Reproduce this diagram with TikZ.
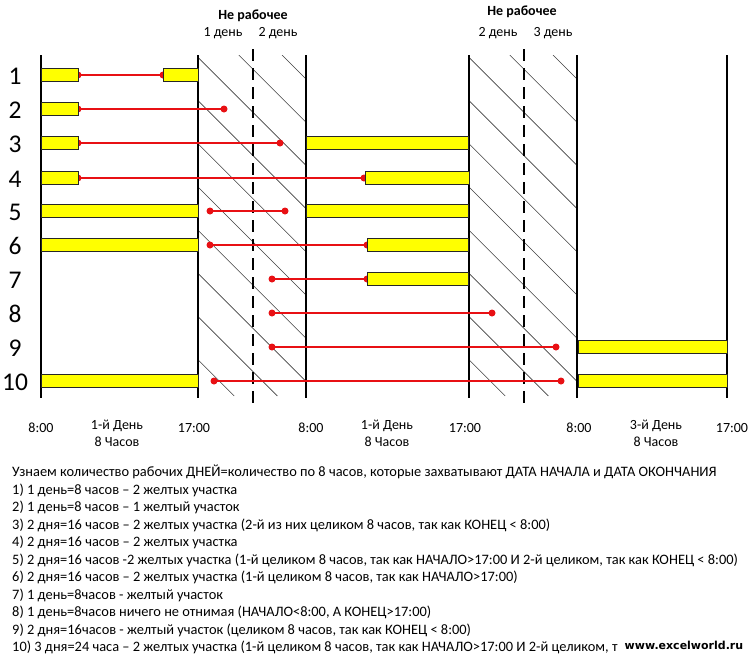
\documentclass[tikz,border=0pt]{standalone}
\usepackage{fontspec}
\setmainfont{Carlito}
\newfontfamily\wmfont{DejaVu Sans}
\definecolor{redc}{RGB}{232,16,20}
\definecolor{ylw}{RGB}{255,255,0}
\begin{document}
\begin{tikzpicture}[x=1pt,y=-1pt,
  bar/.style={draw=black!85, fill=ylw, line width=0.8pt, inner sep=0pt, minimum height=13.5pt, anchor=west},
  dot/.style={circle, fill=redc, inner sep=0pt, minimum size=7pt},
  conn/.style={draw=redc, line width=1.4pt},
  axis/.style={line width=2.6pt, black},
  dashaxis/.style={line width=1.8pt, black, dash pattern=on 12pt off 7pt},
  hatch/.style={line width=0.6pt, black!75},
  lab/.style={font=\fontsize{14}{17}\selectfont, inner sep=0pt},
  rowlab/.style={font=\fontsize{25.5}{28}\selectfont, inner sep=0pt},
  txt/.style={font=\fontsize{14.4}{17.5}\selectfont, inner sep=0pt, anchor=base west}]
\useasboundingbox (0,0) rectangle (749,654);
\fill[white] (0,0) rectangle (749,654);

% hatching
\begin{scope}
  \clip (198,55) rectangle (306,396);
  \foreach \k in {0,...,9}{
    \pgfmathsetmacro\c{227-43.2*\k}
    \draw[hatch] (\c+55,55) -- (\c+396,396);
  }
\end{scope}
\begin{scope}
  \clip (469,55) rectangle (577,396);
  \foreach \k in {0,...,9}{
    \pgfmathsetmacro\c{498-43.2*\k}
    \draw[hatch] (\c+55,55) -- (\c+396,396);
  }
\end{scope}

% axes
\draw[axis] (41,55) -- (41,398);
\draw[axis] (198,55) -- (198,398);
\draw[axis] (306,55) -- (306,398);
\draw[axis] (469,55) -- (469,398);
\draw[axis] (577,55) -- (577,398);
\draw[axis] (727,55) -- (727,398);
\draw[dashaxis] (253,49) -- (253,409);
\draw[dashaxis] (524,49) -- (524,409);

% dots (free ends and bar ends)
\node[dot] (d1a) at (78,75) {};   \node[dot] (d1b) at (163,75) {};
\node[dot] (d2a) at (78,109) {};  \node[dot] (d2b) at (224,109) {};
\node[dot] (d3a) at (78,143) {};  \node[dot] (d3b) at (280,143) {};
\node[dot] (d4a) at (78,178) {};  \node[dot] (d4b) at (364,178) {};
\node[dot] (d5a) at (210,211) {}; \node[dot] (d5b) at (285,211) {};
\node[dot] (d6a) at (210,245) {}; \node[dot] (d6b) at (367,245) {};
\node[dot] (d7a) at (272,279) {}; \node[dot] (d7b) at (367,279) {};
\node[dot] (d8a) at (272,313) {}; \node[dot] (d8b) at (492,313) {};
\node[dot] (d9a) at (272,347) {}; \node[dot] (d9b) at (556,347) {};
\node[dot] (d10a) at (214,381) {}; \node[dot] (d10b) at (561,381) {};

\foreach \r in {1,...,10}{ \draw[conn] (d\r a.center) -- (d\r b.center); }

% bars
\node[bar, minimum width=37pt] (b1a) at (41,75) {};
\node[bar, minimum width=35pt] (b1b) at (163,75) {};
\node[bar, minimum width=37pt] (b2a) at (41,109) {};
\node[bar, minimum width=37pt] (b3a) at (41,143) {};
\node[bar, minimum width=162pt] (b3b) at (306,143) {};
\node[bar, minimum width=37pt] (b4a) at (41,178) {};
\node[bar, minimum width=104pt] (b4b) at (365,178) {};
\node[bar, minimum width=157pt] (b5a) at (41,211) {};
\node[bar, minimum width=162pt] (b5b) at (306,211) {};
\node[bar, minimum width=157pt] (b6a) at (41,245) {};
\node[bar, minimum width=101pt] (b6b) at (367,245) {};
\node[bar, minimum width=101pt] (b7b) at (367,279) {};
\node[bar, minimum width=149pt] (b9b) at (578,347) {};
\node[bar, minimum width=157pt] (b10a) at (41,381) {};
\node[bar, minimum width=149pt] (b10b) at (578,381) {};

% row labels
\node[rowlab] (n1) at (15,76) {1};
\node[rowlab] (n2) at (15,110) {2};
\node[rowlab] (n3) at (15,144) {3};
\node[rowlab] (n4) at (15,179) {4};
\node[rowlab] (n5) at (15,212) {5};
\node[rowlab] (n6) at (15,246) {6};
\node[rowlab] (n7) at (15,280) {7};
\node[rowlab] (n8) at (15,314) {8};
\node[rowlab] (n9) at (15,348) {9};
\node[rowlab] (n10) at (15,382) {10};

% top labels
\node[lab, font=\fontsize{14}{17}\selectfont\bfseries] (nr1) at (253,16) {Не рабочее};
\node[lab] (t1) at (223,33) {1 день};
\node[lab] (t2) at (278,33) {2 день};
\node[lab, font=\fontsize{14}{17}\selectfont\bfseries] (nr2) at (522,12) {Не рабочее};
\node[lab] (t3) at (498,33) {2 день};
\node[lab] (t4) at (553,33) {3 день};

% bottom labels
\node[lab] (h1) at (41,428) {8:00};
\node[lab, align=center] (dd1) at (117,433) {1-й День\\8 Часов};
\node[lab] (h2) at (194,428) {17:00};
\node[lab] (h3) at (311,428) {8:00};
\node[lab, align=center] (dd2) at (387,433) {1-й День\\8 Часов};
\node[lab] (h4) at (465,428) {17:00};
\node[lab] (h5) at (579,428) {8:00};
\node[lab, align=center] (dd3) at (656,433) {3-й День\\8 Часов};
\node[lab] (h6) at (732,428) {17:00};

% explanation text
\node[txt] (l0) at (12,476.5) {Узнаем количество рабочих ДНЕЙ=количество по 8 часов, которые захватывают ДАТА НАЧАЛА и ДАТА ОКОНЧАНИЯ};
\node[txt] (l1) at (12,494) {1) 1 день=8 часов – 2 желтых участка};
\node[txt] (l2) at (12,511.5) {2) 1 день=8 часов – 1 желтый участок};
\node[txt] (l3) at (12,529) {3) 2 дня=16 часов – 2 желтых участка (2-й из них целиком 8 часов, так как КОНЕЦ < 8:00)};
\node[txt] (l4) at (12,546.5) {4) 2 дня=16 часов – 2 желтых участка};
\node[txt] (l5) at (12,564) {5) 2 дня=16 часов -2 желтых участка (1-й целиком 8 часов, так как НАЧАЛО>17:00 И 2-й целиком, так как КОНЕЦ < 8:00)};
\node[txt] (l6) at (12,581.5) {6) 2 дня=16 часов – 2 желтых участка (1-й целиком 8 часов, так как НАЧАЛО>17:00)};
\node[txt] (l7) at (12,599) {7) 1 день=8часов - желтый участок};
\node[txt] (l8) at (12,616.5) {8) 1 день=8часов ничего не отнимая (НАЧАЛО<8:00, А КОНЕЦ>17:00)};
\node[txt] (l9) at (12,634) {9) 2 дня=16часов - желтый участок (целиком 8 часов, так как КОНЕЦ < 8:00)};
\node[txt] (l10) at (12,651.5) {10) 3 дня=24 часа – 2 желтых участка (1-й целиком 8 часов, так как НАЧАЛО>17:00 И 2-й целиком, т};

% watermark
\node[inner sep=0.5pt, anchor=west, font=\wmfont\bfseries\fontsize{11}{13}\selectfont] (wm) at (624,645) {www.excelworld.ru};
\end{tikzpicture}
\end{document}
